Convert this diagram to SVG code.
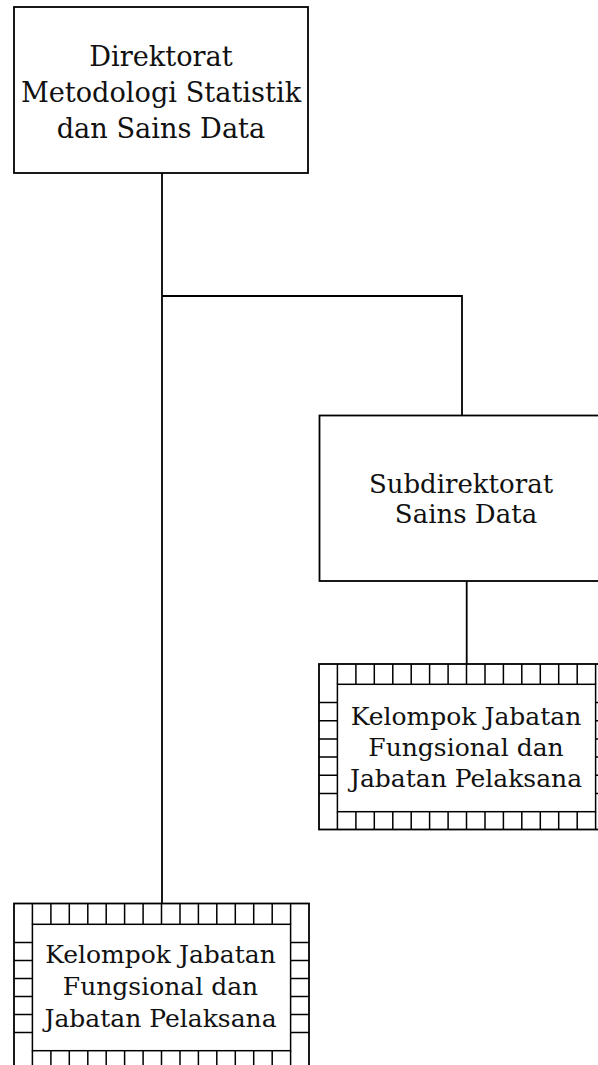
<svg xmlns="http://www.w3.org/2000/svg" width="598" height="1065" viewBox="0 0 598 1065">
<style>
.box{fill:#fff;stroke:#000;stroke-width:1.8}
.grid{fill:none;stroke:#000;stroke-width:1.5}
.conn{fill:none;stroke:#000;stroke-width:1.8}
.t{font-family:"DejaVu Serif","Liberation Serif",serif;fill:#111;text-anchor:middle}
.big{font-size:27.2px}
.mid{font-size:26px}
.sm{font-size:25px}
</style>
<rect width="598" height="1065" fill="#fff"/>
<g id="connectors">
<path class="conn" d="M162,173 V903.5 M162,296 H462 V415.5 M466.7,581 V664"/>
</g>
<g id="direktorat">
<rect class="box" x="14" y="7" width="294" height="166"/>
<text class="t big" x="161" y="65.7">Direktorat</text>
<text class="t big" x="161" y="101.7">Metodologi Statistik</text>
<text class="t big" x="161" y="138">dan Sains Data</text>
</g>
<g id="subdirektorat">
<rect class="box" x="319.5" y="415.5" width="294" height="165.5"/>
<text class="t mid" x="461" y="492.7">Subdirektorat</text>
<text class="t mid" x="466" y="523.3">Sains Data</text>
</g>
<g id="jf-sub">
<rect class="box" x="319" y="664" width="295" height="165.5"/>
<path class="grid" d="M337.4,664V684.3M355.9,664V684.3M374.3,664V684.3M392.8,664V684.3M411.2,664V684.3M429.6,664V684.3M448.1,664V684.3M466.5,664V684.3M485,664V684.3M503.4,664V684.3M521.8,664V684.3M540.3,664V684.3M558.7,664V684.3M577.2,664V684.3M595.6,664V684.3
M337.4,811.7V829.5M355.9,811.7V829.5M374.3,811.7V829.5M392.8,811.7V829.5M411.2,811.7V829.5M429.6,811.7V829.5M448.1,811.7V829.5M466.5,811.7V829.5M485,811.7V829.5M503.4,811.7V829.5M521.8,811.7V829.5M540.3,811.7V829.5M558.7,811.7V829.5M577.2,811.7V829.5M595.6,811.7V829.5
M319,702.5H337.4M319,720.7H337.4M319,738.9H337.4M319,757.1H337.4M319,775.3H337.4M319,793.5H337.4
M595.6,702.5H614M595.6,720.7H614M595.6,738.9H614M595.6,757.1H614M595.6,775.3H614M595.6,793.5H614"/>
<rect class="grid" x="337.4" y="684.3" width="258.2" height="127.4"/>
<text class="t sm" x="466" y="724.5">Kelompok Jabatan</text>
<text class="t sm" x="466" y="756">Fungsional dan</text>
<text class="t sm" x="466" y="787">Jabatan Pelaksana</text>
</g>
<g id="jf-dir">
<rect class="box" x="14" y="903.5" width="295" height="167"/>
<path class="grid" d="M32.4,903.5V924.3M50.9,903.5V924.3M69.3,903.5V924.3M87.8,903.5V924.3M106.2,903.5V924.3M124.6,903.5V924.3M143.1,903.5V924.3M161.5,903.5V924.3M180,903.5V924.3M198.4,903.5V924.3M216.8,903.5V924.3M235.3,903.5V924.3M253.7,903.5V924.3M272.2,903.5V924.3M290.6,903.5V924.3
M32.4,1050.7V1070.5M50.9,1050.7V1070.5M69.3,1050.7V1070.5M87.8,1050.7V1070.5M106.2,1050.7V1070.5M124.6,1050.7V1070.5M143.1,1050.7V1070.5M161.5,1050.7V1070.5M180,1050.7V1070.5M198.4,1050.7V1070.5M216.8,1050.7V1070.5M235.3,1050.7V1070.5M253.7,1050.7V1070.5M272.2,1050.7V1070.5M290.6,1050.7V1070.5
M14,942.4H32.4M14,960.4H32.4M14,978.5H32.4M14,996.5H32.4M14,1014.6H32.4M14,1032.6H32.4
M290.6,942.4H309M290.6,960.4H309M290.6,978.5H309M290.6,996.5H309M290.6,1014.6H309M290.6,1032.6H309"/>
<rect class="grid" x="32.4" y="924.3" width="258.2" height="126.4"/>
<text class="t sm" x="160.5" y="962.7">Kelompok Jabatan</text>
<text class="t sm" x="160.5" y="994.5">Fungsional dan</text>
<text class="t sm" x="160.5" y="1027">Jabatan Pelaksana</text>
</g>
</svg>
